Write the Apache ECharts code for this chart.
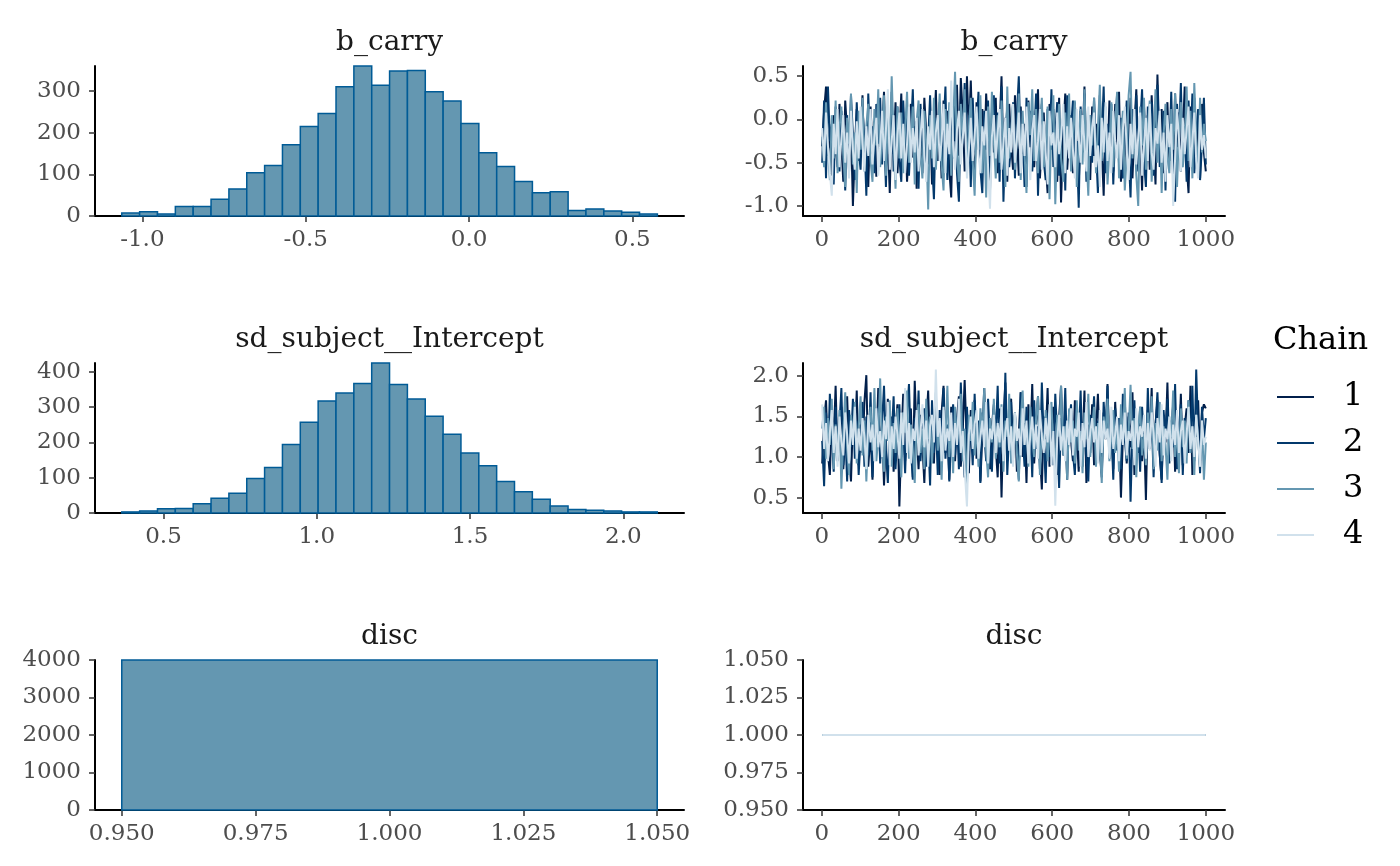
<!DOCTYPE html>
<html>
<head>
<meta charset="utf-8">
<script src="https://cdn.jsdelivr.net/npm/echarts@6/dist/echarts.min.js"></script>
<style>
  html, body { margin: 0; padding: 0; background: #ffffff; }
  #chart { width: 1400px; height: 866px; }
</style>
</head>
<body>
<div id="chart"></div>
<script>
// ---- data ----
const panelTitles = ['b_carry', 'sd_subject__Intercept', 'disc'];
const chainNames = ['1', '2', '3', '4'];
const chainColors = ['#011f4b', '#03396c', '#6497b1', '#d1e1ec'];

// histograms: 30 bins each (start, width, counts)
const carryBinStart = -1.063;
const carryBinWidth = 0.05465;
const carryCounts = [7, 10, 5, 23, 23, 40, 65, 104, 121, 171, 215, 246, 310, 360, 314,
  348, 349, 298, 276, 222, 152, 119, 83, 56, 58, 13, 17, 12, 9, 5];

const sdBinStart = 0.364;
const sdBinWidth = 0.05823;
const sdCounts = [3, 6, 12, 13, 26, 42, 56, 98, 129, 194, 257, 317, 340, 367, 425,
  364, 323, 274, 223, 170, 134, 89, 60, 39, 20, 10, 8, 6, 3, 3];

const discBinEdges = [0.95, 1.05];
const discCounts = [4000];

// traces, thinned to every ~5th iteration (200 draws per chain)
const traceIters = Array.from({ length: 200 }, (_, i) => 1 + Math.round(i * 999 / 199));

const carryChain1 = [
  -0.31, 0.10, 0.38, -0.42, -0.12, -0.65, 0.05, -0.30, -0.55, 0.18,
  -0.28, -0.72, 0.22, -0.15, -0.60, -0.05, -1.00, -0.35, 0.12, -0.48,
  -0.20, 0.28, -0.58, -0.10, -0.78, 0.15, -0.38, -0.02, -0.66, 0.24,
  -0.45, -0.12, 0.32, -0.55, -0.25, -0.85, 0.08, -0.40, 0.20, -0.62,
  -0.18, 0.30, -0.50, 0.02, -0.72, -0.28, 0.18, -0.44, -0.08, -0.80,
  0.12, -0.35, -0.62, 0.25, -0.15, -0.52, 0.05, -0.75, -0.22, 0.34,
  -0.48, -0.05, -0.68, 0.22, -0.30, 0.10, -0.58, -0.90, 0.15, -0.25,
  0.40, -0.42, 0.48, 0.05, -0.60, 0.50, -0.18, 0.45, -0.35, -0.70,
  0.20, -0.28, -0.55, 0.12, -0.45, 0.30, -0.15, -0.82, 0.08, -0.38,
  0.25, -0.62, -0.10, 0.50, -0.48, 0.02, -0.72, 0.18, -0.30, -0.58,
  0.28, -0.20, -0.65, 0.15, -0.40, -0.05, -0.78, 0.22, -0.32, 0.10,
  -0.55, -0.15, 0.35, -0.68, -0.25, 0.08, -0.50, -0.85, 0.18, -0.35,
  0.12, -0.45, -0.72, 0.25, -0.96, -0.10, 0.30, -0.58, -0.22, 0.05,
  -0.62, 0.20, -0.38, -0.80, 0.10, -0.28, 0.38, -0.50, -0.12, -0.70,
  0.15, -0.42, -0.05, -0.65, 0.28, -0.32, -0.88, 0.02, -0.48, 0.22,
  -0.25, -0.60, 0.18, -0.38, 0.32, -0.72, -0.15, 0.10, -0.55, -0.30,
  0.25, -0.68, -0.08, 0.35, -0.45, -0.20, -0.82, 0.15, -0.35, 0.05,
  -0.58, 0.28, -0.25, -0.75, 0.52, -0.40, 0.12, -0.62, -0.15, 0.20,
  -0.48, -0.05, -0.70, 0.30, -0.32, 0.08, -0.60, -0.20, 0.38, -0.52,
  -0.85, 0.15, -0.28, 0.25, -0.45, -0.10, -0.68, 0.18, -0.38, -0.60];
const carryChain2 = [
  -0.50, 0.22, -0.68, 0.38, -0.25, -0.05, -0.75, 0.15, -0.40, -0.60,
  0.10, -0.30, -0.82, 0.05, -0.45, 0.28, -0.18, -0.70, 0.20, -0.35,
  -0.58, 0.12, -0.22, -0.88, 0.30, -0.40, -0.08, -0.62, 0.18, -0.28,
  0.25, -0.52, -0.12, -0.78, 0.08, -0.35, 0.32, -0.60, -0.18, 0.15,
  -0.45, -0.72, 0.22, -0.30, 0.05, -0.65, -0.15, 0.35, -0.50, -0.02,
  -0.80, 0.18, -0.38, 0.10, -0.60, -0.25, 0.28, -0.48, -0.92, 0.02,
  -0.32, 0.20, -0.55, -0.10, 0.38, -0.70, -0.20, 0.12, -0.45, 0.30,
  -0.62, -0.95, 0.15, -0.28, 0.42, -0.50, 0.05, -0.78, 0.25, -0.38,
  -0.12, 0.32, -0.58, -0.85, 0.10, -0.35, 0.22, -0.65, -0.05, 0.28,
  -0.45, 0.08, -0.72, 0.38, -0.95, -0.20, 0.15, -0.55, -0.30, 0.20,
  -0.68, 0.05, 0.50, -0.40, -0.15, -0.78, 0.25, -0.32, 0.10, -0.60,
  -0.22, 0.30, -0.88, -0.08, 0.18, -0.48, -0.70, 0.12, -0.35, 0.35,
  -0.55, -0.18, 0.20, -0.65, -0.30, 0.08, -0.82, 0.28, -0.42, -0.10,
  0.22, -0.58, -0.25, -1.02, 0.15, -0.38, 0.30, -0.72, -0.12, 0.05,
  -0.50, 0.25, -0.32, -0.85, 0.10, -0.20, 0.38, -0.62, -0.05, -0.45,
  0.18, -0.75, -0.15, 0.30, -0.52, 0.02, -0.68, -0.28, 0.22, -0.40,
  -0.90, 0.12, -0.35, 0.28, -0.60, -0.08, 0.35, -0.48, -0.78, 0.15,
  -0.25, 0.20, -0.65, -0.12, 0.40, -0.55, -0.30, 0.10, -0.82, 0.05,
  -0.38, 0.32, -0.60, -0.95, 0.18, -0.22, 0.42, -0.50, -0.08, -0.72,
  0.22, -0.35, 0.30, -0.62, -0.15, 0.12, -0.70, -0.28, 0.25, -0.52];
const carryChain3 = [
  -0.20, -0.55, 0.20, -0.35, -0.70, 0.05, -0.45, 0.22, -0.62, -0.10,
  0.15, -0.40, -0.78, 0.02, -0.28, 0.30, -0.52, -0.15, -0.85, 0.10,
  -0.35, 0.25, -0.60, -0.08, 0.18, -0.48, -0.72, 0.12, -0.30, 0.35,
  -0.55, -0.18, 0.28, -0.65, 0.05, -0.40, 0.50, -0.25, -0.80, 0.15,
  -0.45, 0.08, -0.62, -0.12, 0.32, -0.50, -0.22, 0.15, -0.75, -0.02,
  0.22, -0.38, -0.68, 0.10, -0.28, -1.04, 0.05, -0.45, 0.25, -0.58,
  -0.15, 0.30, -0.52, -0.82, 0.12, -0.32, 0.20, -0.65, -0.05, 0.55,
  -0.40, -0.72, 0.18, -0.22, 0.35, -0.58, -0.10, 0.25, -0.48, -0.88,
  0.08, -0.35, 0.28, -0.62, -0.15, -0.90, 0.15, -0.42, 0.32, -0.25,
  -0.68, 0.05, -0.50, 0.22, -0.30, -0.78, 0.38, -0.45, -0.12, 0.18,
  -0.58, -0.25, 0.30, -0.70, 0.10, -0.40, -0.85, 0.20, -0.18, 0.35,
  -0.48, 0.12, -0.62, -0.08, 0.25, -0.55, -0.30, 0.15, -0.92, -0.05,
  0.28, -0.98, -0.20, 0.18, -0.45, -0.72, 0.08, -0.35, 0.30, -0.60,
  -0.15, 0.22, -0.78, -0.28, 0.12, -0.52, 0.35, -0.40, -0.88, 0.05,
  -0.30, 0.25, -0.62, -0.10, 0.40, -0.48, -0.20, 0.15, -0.75, -0.35,
  0.20, -0.55, -0.05, 0.32, -0.68, -0.25, 0.10, -0.82, -0.40, 0.28,
  0.55, -0.45, -0.12, -0.65, -1.00, 0.15, -0.30, 0.25, -0.58, -0.08,
  0.22, -0.72, -0.22, 0.35, -0.50, 0.05, -0.85, -0.18, 0.18, -0.42,
  -0.62, 0.12, -0.35, 0.30, -0.78, -0.15, 0.20, -0.55, -0.28, 0.38,
  -0.48, 0.10, -0.68, 0.42, -0.22, -0.60, 0.25, -0.38, -0.05, -0.25];
const carryChain4 = [
  -0.10, -0.48, 0.08, -0.30, -0.62, -0.88, -0.05, -0.40, 0.12, -0.55,
  -0.22, 0.05, -0.50, -0.15, -0.68, 0.10, -0.35, -0.58, -0.02, -0.45,
  0.15, -0.28, -0.60, -0.08, -0.42, 0.12, -0.52, -0.20, 0.02, -0.65,
  -0.32, 0.10, -0.48, -0.12, 0.35, -0.58, -0.25, 0.05, -0.70, -0.18,
  0.08, -0.45, -0.05, -0.62, -0.28, 0.15, -0.50, -0.10, -0.38, 0.02,
  -0.60, -0.20, 0.12, -0.42, -0.72, -0.08, -0.35, 0.10, -0.55, -0.15,
  0.05, -0.48, -0.25, 0.18, -0.62, -0.05, -0.40, 0.45, -0.30, -0.58,
  -0.12, 0.10, -0.52, -0.22, 0.08, -0.68, -0.35, 0.02, -0.48, -0.18,
  0.15, -0.40, -0.62, -0.08, -0.30, 0.10, -0.55, -1.03, -0.20, 0.05,
  -0.45, -0.15, 0.12, -0.58, -0.28, 0.02, -0.65, -0.10, -0.38, 0.18,
  -0.50, -0.22, 0.08, -0.62, -0.05, -0.42, 0.15, -0.32, -0.70, -0.12,
  0.05, -0.48, -0.25, 0.12, -0.58, -0.02, -0.38, -0.75, 0.10, -0.30,
  -0.15, -0.55, 0.08, -0.40, -0.22, 0.18, -0.62, -0.08, -0.45, 0.02,
  -0.35, -0.68, 0.12, -0.20, -0.50, 0.05, -0.28, -0.60, 0.15, -0.42,
  -0.10, 0.08, -0.55, -0.30, -0.78, 0.02, -0.38, 0.20, -0.48, -0.15,
  -0.62, 0.10, -0.25, -0.45, 0.05, -0.58, -0.12, 0.15, -0.35, -0.70,
  -0.05, -0.40, 0.12, -0.52, -0.20, 0.08, -0.65, -0.30, 0.02, -0.48,
  0.18, -0.38, -0.58, -0.10, -0.28, 0.10, -0.50, -0.15, -0.72, 0.05,
  -0.32, -0.05, -1.00, -0.45, 0.12, -0.22, -0.60, 0.02, -0.40, -0.12,
  0.15, -0.55, -0.25, 0.08, -0.48, -0.68, 0.05, -0.35, -0.18, -0.45];

const sdChain1 = [
  0.92, 1.45, 1.70, 1.05, 0.78, 1.55, 1.20, 1.88, 0.95, 1.35,
  1.62, 0.85, 1.28, 1.75, 1.02, 0.70, 1.48, 1.15, 1.82, 0.90,
  1.40, 1.05, 1.68, 2.01, 0.88, 1.30, 0.72, 1.58, 1.12, 1.85,
  0.98, 1.42, 0.65, 1.25, 1.72, 1.08, 1.50, 0.82, 1.35, 1.65,
  0.39, 1.20, 1.78, 0.95, 1.45, 1.10, 1.60, 0.75, 1.94, 1.28,
  0.85, 1.52, 1.15, 0.68, 1.40, 1.82, 1.02, 1.30, 0.92, 1.68,
  1.25, 0.78, 1.55, 1.88, 1.05, 1.38, 0.72, 1.62, 1.18, 0.95,
  1.48, 1.75, 0.88, 1.32, 1.95, 1.10, 0.80, 1.58, 1.22, 1.70,
  0.98, 1.42, 0.70, 1.28, 1.85, 1.05, 1.52, 0.85, 1.38, 1.65,
  1.12, 0.75, 1.60, 0.50, 1.45, 1.92, 0.95, 1.35, 1.72, 1.08,
  1.55, 0.82, 1.28, 1.80, 1.00, 1.42, 0.68, 1.65, 1.18, 1.90,
  0.92, 1.38, 1.75, 1.05, 0.60, 1.50, 1.22, 1.85, 0.88, 1.32,
  1.62, 1.10, 0.78, 1.48, 1.88, 1.02, 1.35, 0.72, 1.58, 1.20,
  0.95, 1.70, 1.28, 0.82, 1.52, 1.15, 1.82, 0.68, 1.40, 1.05,
  1.65, 0.90, 1.32, 1.78, 1.08, 0.75, 1.55, 1.22, 1.90, 0.98,
  1.42, 0.85, 1.68, 1.15, 1.38, 0.50, 1.25, 1.72, 0.92, 1.50,
  1.12, 1.80, 0.78, 1.45, 1.05, 1.62, 0.95, 1.35, 0.47, 1.58,
  1.22, 1.85, 0.88, 1.40, 1.70, 1.02, 0.72, 1.52, 1.18, 1.92,
  0.98, 1.32, 1.65, 0.82, 1.45, 1.10, 1.78, 0.90, 1.38, 1.60,
  1.05, 1.88, 0.78, 1.48, 1.25, 1.70, 0.95, 1.55, 1.65, 1.60];
const sdChain2 = [
  1.20, 0.64, 1.55, 0.95, 1.78, 1.28, 0.82, 1.62, 1.05, 1.40,
  1.85, 0.90, 1.32, 0.70, 1.58, 1.12, 1.72, 0.98, 1.45, 0.78,
  1.25, 1.68, 0.88, 1.50, 1.02, 1.80, 0.75, 1.35, 1.15, 1.62,
  0.92, 1.42, 1.88, 1.08, 0.68, 1.55, 1.22, 1.75, 0.85, 1.30,
  1.65, 1.00, 1.38, 0.80, 1.52, 1.90, 1.10, 0.72, 1.48, 1.18,
  1.82, 0.95, 1.35, 1.60, 0.88, 1.25, 0.65, 1.70, 1.05, 1.45,
  0.78, 1.58, 1.15, 1.85, 0.98, 1.40, 0.70, 1.28, 1.65, 1.02,
  1.50, 0.85, 1.92, 1.20, 0.75, 1.62, 1.08, 1.38, 0.90, 1.78,
  1.12, 1.45, 0.68, 1.55, 1.30, 0.95, 1.72, 1.18, 0.82, 1.60,
  1.25, 1.88, 0.92, 1.42, 1.05, 2.04, 0.78, 1.35, 1.68, 0.98,
  1.52, 1.15, 0.72, 1.80, 1.28, 0.88, 1.62, 1.02, 1.45, 0.75,
  1.70, 1.10, 1.38, 0.85, 1.92, 1.22, 0.68, 1.55, 1.00, 1.42,
  0.90, 1.78, 1.25, 0.62, 1.48, 1.12, 1.85, 0.95, 1.35, 1.65,
  1.05, 0.78, 1.58, 1.20, 1.82, 0.88, 1.40, 1.02, 0.70, 1.52,
  1.30, 1.75, 0.92, 1.45, 1.15, 0.80, 1.68, 1.25, 1.88, 0.98,
  1.38, 0.72, 1.60, 1.08, 1.48, 0.85, 1.78, 1.22, 0.95, 1.55,
  0.45, 1.32, 1.70, 1.00, 1.42, 0.82, 1.62, 1.18, 0.90, 1.85,
  1.10, 1.50, 0.75, 1.38, 1.80, 1.05, 0.68, 1.58, 1.25, 1.72,
  0.92, 1.45, 1.12, 1.90, 0.85, 1.35, 1.65, 0.78, 1.48, 1.02,
  1.70, 1.15, 1.88, 0.95, 2.08, 1.30, 0.80, 1.62, 1.22, 1.48];
const sdChain3 = [
  1.35, 1.62, 0.98, 1.48, 1.15, 1.72, 0.85, 1.40, 1.05, 1.58,
  0.61, 1.28, 1.80, 1.10, 0.78, 1.52, 1.22, 1.68, 0.92, 1.38,
  1.75, 1.02, 1.45, 0.70, 1.32, 1.62, 1.08, 1.85, 0.95, 1.25,
  1.97, 1.12, 0.82, 1.50, 1.20, 1.70, 0.88, 1.42, 1.05, 1.60,
  1.18, 0.75, 1.55, 1.30, 1.82, 0.98, 1.40, 1.10, 0.68, 1.48,
  1.65, 1.05, 1.35, 0.85, 1.72, 1.22, 1.50, 0.92, 1.38, 1.80,
  1.08, 1.45, 0.72, 1.58, 1.25, 1.88, 1.00, 1.32, 0.80, 1.62,
  1.15, 1.42, 1.78, 0.95, 1.35, 0.65, 1.52, 1.20, 1.68, 1.02,
  1.40, 0.88, 1.60, 1.28, 1.85, 1.08, 0.75, 1.48, 1.18, 1.72,
  0.98, 1.38, 1.12, 1.65, 0.82, 1.45, 1.25, 1.78, 0.92, 1.30,
  1.55, 1.05, 0.70, 1.42, 1.82, 1.15, 1.35, 0.88, 1.62, 1.22,
  1.00, 1.48, 1.75, 0.78, 1.30, 1.10, 1.58, 0.95, 1.40, 1.68,
  1.12, 0.85, 1.52, 1.25, 1.88, 1.02, 1.38, 0.72, 1.60, 1.18,
  1.45, 0.92, 1.70, 1.08, 1.32, 0.80, 1.55, 1.22, 1.78, 1.00,
  1.35, 1.62, 0.88, 1.42, 1.15, 0.68, 1.50, 1.28, 1.72, 0.95,
  1.25, 1.58, 1.05, 1.40, 0.82, 1.65, 1.18, 1.85, 0.98, 1.32,
  1.89, 1.10, 1.48, 0.75, 1.35, 1.62, 1.02, 1.28, 0.90, 1.55,
  1.20, 1.75, 0.85, 1.42, 1.08, 1.68, 0.95, 1.38, 1.15, 0.72,
  1.50, 1.25, 1.82, 1.00, 1.35, 0.80, 1.60, 1.12, 1.45, 0.92,
  1.70, 1.05, 1.38, 0.78, 1.52, 1.22, 0.88, 1.45, 0.72, 1.18];
const sdChain4 = [
  1.65, 1.10, 1.42, 0.95, 1.30, 1.58, 1.05, 1.38, 0.88, 1.50,
  1.20, 1.02, 1.55, 1.28, 0.92, 1.45, 1.15, 1.62, 0.98, 1.35,
  1.08, 1.48, 1.25, 0.85, 1.52, 1.18, 1.40, 0.95, 1.60, 1.12,
  1.32, 1.00, 1.45, 1.22, 1.68, 0.90, 1.38, 1.10, 1.50, 1.28,
  0.98, 1.55, 1.15, 1.85, 1.05, 1.42, 0.92, 1.35, 1.20, 1.58,
  1.02, 1.30, 1.65, 1.12, 1.45, 0.88, 1.38, 1.52, 1.18, 2.08,
  1.25, 1.48, 0.95, 1.62, 1.08, 1.35, 1.20, 1.55, 1.00, 1.42,
  1.15, 1.72, 1.05, 1.32, 0.85, 0.39, 1.28, 1.50, 1.10, 1.40,
  1.58, 0.98, 1.25, 1.45, 1.12, 1.68, 0.92, 1.35, 1.22, 1.52,
  1.05, 1.42, 1.18, 1.62, 0.95, 1.30, 1.48, 1.08, 1.38, 0.88,
  1.55, 1.20, 1.35, 1.02, 1.60, 1.15, 1.45, 0.92, 1.28, 1.50,
  1.10, 1.40, 0.98, 1.58, 1.25, 1.05, 1.48, 1.18, 1.65, 0.90,
  1.32, 0.40, 1.22, 1.52, 1.08, 1.38, 0.95, 1.45, 1.15, 1.60,
  1.02, 1.35, 1.25, 1.55, 0.88, 1.42, 1.12, 1.68, 1.00, 1.30,
  1.48, 1.18, 1.38, 0.92, 1.58, 1.05, 1.45, 1.22, 1.35, 0.98,
  1.62, 1.10, 1.28, 1.50, 0.95, 1.40, 1.15, 1.55, 1.02, 1.32,
  1.20, 1.45, 0.90, 1.60, 1.12, 1.38, 1.25, 1.52, 0.98, 1.42,
  1.08, 1.55, 1.30, 0.88, 1.48, 1.18, 1.65, 1.02, 1.35, 1.22,
  1.50, 0.95, 1.40, 1.15, 1.58, 1.05, 1.32, 1.45, 0.92, 1.28,
  1.62, 1.10, 1.38, 1.00, 1.52, 1.20, 0.88, 1.45, 1.15, 1.25];

// disc is constant at 1 for every draw
const discValue = 1;

// tick labels
const carryHistTicks = [-1.0, -0.5, 0.0, 0.5];
const carryCountTicks = [0, 100, 200, 300];
const sdHistTicks = [0.5, 1.0, 1.5, 2.0];
const sdCountTicks = [0, 100, 200, 300, 400];
const discHistTicks = [0.95, 0.975, 1.0, 1.025, 1.05];
const discCountTicks = [0, 1000, 2000, 3000, 4000];
const iterTicks = [0, 200, 400, 600, 800, 1000];
const carryTraceTicks = [-1.0, -0.5, 0.0, 0.5];
const sdTraceTicks = [0.5, 1.0, 1.5, 2.0];
const discTraceTicks = [0.95, 0.975, 1.0, 1.025, 1.05];

// ---- chart ----
const FONT = 'DejaVu Serif';
const chart = echarts.init(document.getElementById('chart'));

const rowTops = [66, 363, 660];
const rowHeight = 150;
const histCol = { left: 95, width: 589 };
const traceCol = { left: 803, width: 422 };

function makeAxis(extra, ticks, digits, isX) {
    return Object.assign({
        type: 'value',
        axisLine: { show: true, onZero: false, lineStyle: { color: '#000000', width: 2 } },
        axisTick: { show: true, length: 6, customValues: ticks, lineStyle: { color: '#333333', width: 1.5 } },
        axisLabel: {
            customValues: ticks,
            color: '#4d4d4d',
            fontFamily: FONT,
            fontSize: 23,
            margin: isX ? 13 : 14,
            formatter: v => v.toFixed(digits)
        },
        splitLine: { show: false }
    }, extra);
}

function histSeries(idx, edges, counts) {
    return {
        type: 'custom',
        xAxisIndex: idx,
        yAxisIndex: idx,
        silent: true,
        data: counts.map((c, i) => [edges[i], edges[i + 1], c]),
        encode: { x: [0, 1], y: 2 },
        renderItem: (params, api) => {
            const p0 = api.coord([api.value(0), 0]);
            const p1 = api.coord([api.value(1), api.value(2)]);
            return {
                type: 'rect',
                shape: { x: p0[0], y: p1[1], width: p1[0] - p0[0], height: p0[1] - p1[1] },
                style: { fill: '#6497b1', stroke: '#005b96', lineWidth: 1.5 }
            };
        }
    };
}

function traceSeries(idx, chain, values) {
    return {
        name: chainNames[chain],
        type: 'line',
        xAxisIndex: idx,
        yAxisIndex: idx,
        symbol: 'none',
        silent: true,
        color: chainColors[chain],
        lineStyle: { width: 2, color: chainColors[chain] },
        data: traceIters.map((it, i) => [it, values[i]])
    };
}

const edges = (start, width, n) => Array.from({ length: n + 1 }, (_, i) => start + i * width);

const grids = [];
rowTops.forEach(top => {
    grids.push({ left: histCol.left, width: histCol.width, top: top, height: rowHeight });
    grids.push({ left: traceCol.left, width: traceCol.width, top: top, height: rowHeight });
});

const xAxes = [
    makeAxis({ gridIndex: 0, min: -1.145, max: 0.658 }, carryHistTicks, 1, true),
    makeAxis({ gridIndex: 1, min: -48.95, max: 1049.95 }, iterTicks, 0, true),
    makeAxis({ gridIndex: 2, min: 0.2766, max: 2.198 }, sdHistTicks, 1, true),
    makeAxis({ gridIndex: 3, min: -48.95, max: 1049.95 }, iterTicks, 0, true),
    makeAxis({ gridIndex: 4, min: 0.945, max: 1.055 }, discHistTicks, 3, true),
    makeAxis({ gridIndex: 5, min: -48.95, max: 1049.95 }, iterTicks, 0, true)
];
const yAxes = [
    makeAxis({ gridIndex: 0, min: 0, max: 360 }, carryCountTicks, 0),
    makeAxis({ gridIndex: 1, min: -1.115, max: 0.618 }, carryTraceTicks, 1),
    makeAxis({ gridIndex: 2, min: 0, max: 425 }, sdCountTicks, 0),
    makeAxis({ gridIndex: 3, min: 0.31, max: 2.16 }, sdTraceTicks, 1),
    makeAxis({ gridIndex: 4, min: 0, max: 4000 }, discCountTicks, 0),
    makeAxis({ gridIndex: 5, min: 0.95, max: 1.05 }, discTraceTicks, 3)
];

const carryChains = [carryChain1, carryChain2, carryChain3, carryChain4];
const sdChains = [sdChain1, sdChain2, sdChain3, sdChain4];
const discChains = chainNames.map(() => traceIters.map(() => discValue));

const series = [
    histSeries(0, edges(carryBinStart, carryBinWidth, carryCounts.length), carryCounts),
    histSeries(2, edges(sdBinStart, sdBinWidth, sdCounts.length), sdCounts),
    histSeries(4, discBinEdges, discCounts)
];
carryChains.forEach((vals, c) => series.push(traceSeries(1, c, vals)));
sdChains.forEach((vals, c) => series.push(traceSeries(3, c, vals)));
discChains.forEach((vals, c) => series.push(traceSeries(5, c, vals)));

// panel titles
const titleGraphics = [];
rowTops.forEach((top, r) => {
    [histCol, traceCol].forEach(col => {
        titleGraphics.push({
            type: 'text',
            x: col.left + col.width / 2,
            y: top - 23,
            style: {
                text: panelTitles[r],
                fill: '#1a1a1a',
                font: '28px "' + FONT + '"',
                textAlign: 'center',
                textVerticalAlign: 'middle'
            }
        });
    });
});
titleGraphics.push({
    type: 'text',
    x: 1273,
    y: 341,
    style: {
        text: 'Chain',
        fill: '#000000',
        font: '32px "' + FONT + '"',
        textAlign: 'left',
        textVerticalAlign: 'middle'
    }
});

chart.setOption({
    backgroundColor: '#ffffff',
    animation: false,
    grid: grids,
    xAxis: xAxes,
    yAxis: yAxes,
    legend: {
        data: chainNames,
        orient: 'vertical',
        left: 1277,
        top: 381,
        padding: 0,
        itemWidth: 37,
        itemHeight: 2,
        itemGap: 14,
        icon: 'rect',
        selectedMode: false,
        textStyle: { fontFamily: FONT, fontSize: 32, color: '#000000', padding: [0, 0, 0, 24] }
    },
    graphic: titleGraphics,
    series: series
});
</script>
</body>
</html>
